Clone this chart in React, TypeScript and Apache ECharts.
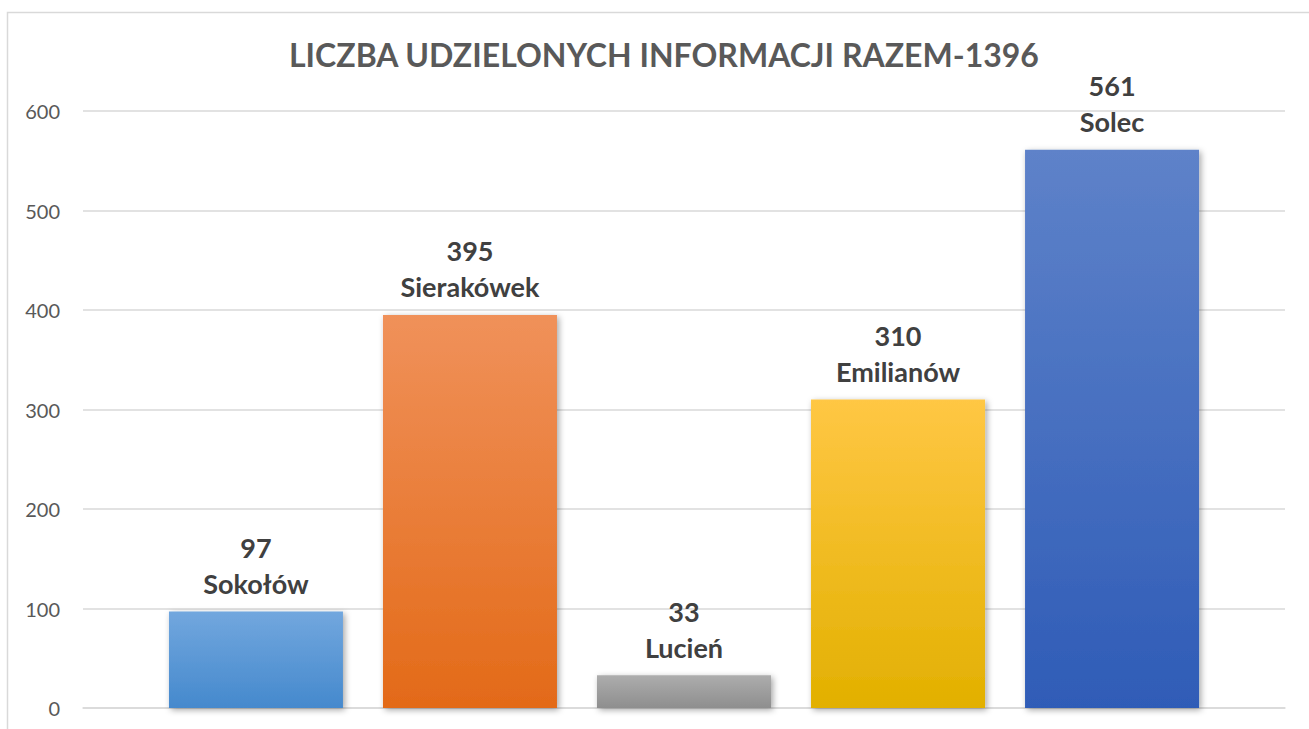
import React, { useEffect, useRef } from "react";
import * as echarts from "echarts";

const titleText = "LICZBA UDZIELONYCH INFORMACJI RAZEM-1396";
const categories = ["RAZEM"];
const seriesNames = ["Sokołów", "Sierakówek", "Lucień", "Emilianów", "Solec"];
const seriesValues = [97, 395, 33, 310, 561];
const topColors = ["#72A7DE", "#F0915A", "#ADADAD", "#FFC744", "#5E82C9"];
const bottomColors = ["#4589CD", "#E36A18", "#8E8E8E", "#E2B000", "#2F5CB7"];
const yTicks = [0, 100, 200, 300, 400, 500, 600];

const FONT = "Lato, 'Open Sans', sans-serif";

export default function App() {
  const ref = useRef<HTMLDivElement>(null);
  useEffect(() => {
    document.body.style.margin = "0";
    if (!ref.current) return;
    const chart = echarts.init(ref.current, null, { renderer: "svg" });
    const series = seriesNames.map((name, i) => ({
      type: "bar",
      name,
      data: [seriesValues[i]],
      barWidth: 174,
      barGap: "23%",
      itemStyle: {
        color: new echarts.graphic.LinearGradient(0, 0, 0, 1, [
          { offset: 0, color: topColors[i] },
          { offset: 1, color: bottomColors[i] },
        ]),
        shadowColor: "rgba(0,0,0,0.35)",
        shadowBlur: 6,
        shadowOffsetX: 2,
        shadowOffsetY: 2,
      },
      label: {
        show: true,
        position: "top",
        distance: 10,
        formatter: "{c}\n{a}",
        fontFamily: FONT,
        fontWeight: "bold",
        fontSize: 27,
        lineHeight: 36,
        color: "#404040",
      },
    }));
    chart.setOption({
      animation: false,
      backgroundColor: "#ffffff",
      title: {
        text: titleText,
        left: 284,
        top: 33,
        textStyle: {
          fontFamily: FONT,
          fontWeight: "bold",
          fontSize: 32,
          color: "#595959",
        },
      },
      graphic: [
        {
          type: "rect",
          shape: { x: 7.5, y: 12.5, width: 1305, height: 730 },
          style: { fill: "none", stroke: "#D9D9D9", lineWidth: 1.5 },
          silent: true,
        },
      ],
      grid: { left: 83, right: 24, top: 111, bottom: 21 },
      xAxis: {
        type: "category",
        data: categories,
        axisLine: { show: true, lineStyle: { color: "#D9D9D9", width: 1.5 } },
        axisTick: { show: false },
        axisLabel: { show: false },
      },
      yAxis: {
        type: "value",
        min: yTicks[0],
        max: yTicks[yTicks.length - 1],
        interval: 100,
        axisLine: { show: false },
        axisTick: { show: false },
        axisLabel: {
          margin: 23,
          fontFamily: FONT,
          fontSize: 20,
          color: "#595959",
        },
        splitLine: { lineStyle: { color: "#D9D9D9", width: 1.5 } },
      },
      series,
    });
    return () => chart.dispose();
  }, []);
  return <div ref={ref} style={{ width: 1309, height: 729 }} />;
}
